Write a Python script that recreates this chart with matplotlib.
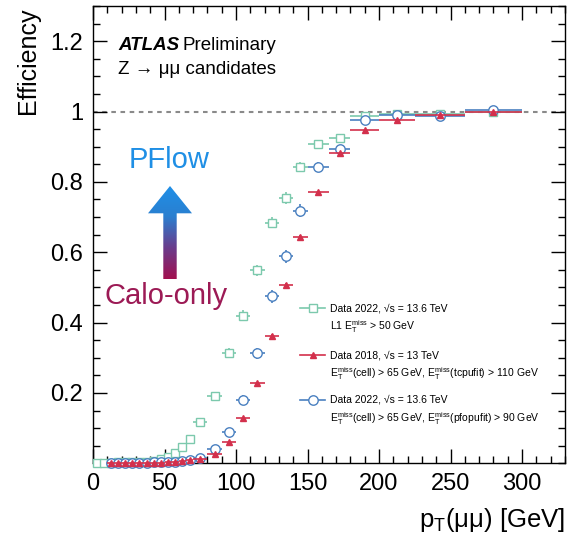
import numpy as np
import matplotlib
matplotlib.use("Agg")
import matplotlib.pyplot as plt
from matplotlib.patches import Polygon
from matplotlib.ticker import MultipleLocator, FixedLocator
from matplotlib.colors import LinearSegmentedColormap

plt.rcParams['font.family'] = ['Liberation Sans', 'DejaVu Sans']
plt.rcParams['mathtext.fontset'] = 'custom'
plt.rcParams['mathtext.rm'] = 'Liberation Sans'
plt.rcParams['mathtext.it'] = 'Liberation Sans:italic'
plt.rcParams['mathtext.bf'] = 'Liberation Sans:bold'

# ---------------- data ----------------
edges_l1 = [0, 5, 10, 15, 20, 25, 30, 35, 40, 45, 50, 55, 60, 65, 70,
            80, 90, 100, 110, 120, 130, 140, 150, 165, 180, 200, 225, 260, 300]
eff_l1 = [0.0, 0.0, 0.002, 0.003, 0.003, 0.004, 0.005, 0.005, 0.007, 0.011,
          0.018, 0.030, 0.047, 0.069, 0.117, 0.190, 0.313, 0.420, 0.549,
          0.684, 0.754, 0.842, 0.907, 0.926, 0.986, 0.992, 0.993, 1.0]
err_l1 = [0.002, 0.002, 0.002, 0.002, 0.002, 0.002, 0.002, 0.002, 0.003, 0.003,
          0.004, 0.005, 0.006, 0.008, 0.010, 0.012, 0.014, 0.015, 0.016,
          0.016, 0.016, 0.014, 0.010, 0.010, 0.006, 0.005, 0.005, 0.004]

edges_run2 = [10, 15, 20, 25, 30, 35, 40, 45, 50, 55, 60, 65, 70,
              80, 90, 100, 110, 120, 130, 140, 150, 165, 180, 200, 225, 260, 300]
eff_2018 = [0.0, 0.0, 0.0, 0.0, 0.001, 0.001, 0.002, 0.002, 0.003, 0.004,
            0.006, 0.008, 0.011, 0.027, 0.061, 0.128, 0.228, 0.363, 0.508,
            0.644, 0.772, 0.882, 0.947, 0.977, 0.991, 0.999]
err_2018 = [0.001, 0.001, 0.001, 0.001, 0.001, 0.001, 0.001, 0.001, 0.001, 0.001,
            0.001, 0.001, 0.002, 0.002, 0.003, 0.003, 0.004, 0.004, 0.004,
            0.004, 0.003, 0.003, 0.002, 0.002, 0.002, 0.001]
eff_pflow = [0.001, 0.001, 0.001, 0.001, 0.002, 0.002, 0.003, 0.003, 0.004, 0.005,
             0.007, 0.009, 0.016, 0.042, 0.090, 0.180, 0.313, 0.475, 0.588,
             0.718, 0.843, 0.893, 0.975, 0.991, 0.987, 1.003]
err_pflow = [0.002, 0.002, 0.002, 0.002, 0.002, 0.002, 0.002, 0.002, 0.003, 0.003,
             0.003, 0.004, 0.005, 0.008, 0.011, 0.014, 0.016, 0.018, 0.018,
             0.018, 0.014, 0.012, 0.008, 0.006, 0.006, 0.004]

x_ticks = [0, 50, 100, 150, 200, 250, 300]
y_ticks = [0.2, 0.4, 0.6, 0.8, 1.0, 1.2]
y_tick_labels = ["0.2", "0.4", "0.6", "0.8", "1", "1.2"]

labels_main = ["Data 2022, \u221As = 13.6 TeV",
               "Data 2018, \u221As = 13 TeV",
               "Data 2022, \u221As = 13.6 TeV"]
labels_sub = [r"L1 $\mathrm{E}_{\mathrm{T}}^{\mathrm{miss}}$ > 50 GeV",
              r"$\mathrm{E}_{\mathrm{T}}^{\mathrm{miss}}$(cell) > 65 GeV, $\mathrm{E}_{\mathrm{T}}^{\mathrm{miss}}$(tcpufit) > 110 GeV",
              r"$\mathrm{E}_{\mathrm{T}}^{\mathrm{miss}}$(cell) > 65 GeV, $\mathrm{E}_{\mathrm{T}}^{\mathrm{miss}}$(pfopufit) > 90 GeV"]

GREEN = "#7cc9ad"
RED = "#d3304c"
BLUE = "#4a80c0"

# ---------------- figure ----------------
fig = plt.figure(figsize=(5.69, 5.47), dpi=100)
ax = fig.add_axes([93/569, 1 - 463.3/547, 472/569, 457.3/547])


def draw(edges, eff, err, marker, color, ms, mfc, z):
    e = np.asarray(edges, dtype=float)
    c = 0.5 * (e[1:] + e[:-1])
    hw = 0.5 * (e[1:] - e[:-1])
    cont = ax.errorbar(c, eff, xerr=hw, yerr=err, fmt=marker, ms=ms, mfc=mfc,
                       mec=color, mew=1.0, color=color, elinewidth=1.2,
                       capsize=0, zorder=z)
    for art in cont.get_children():
        art.set_clip_on(False)


ax.axhline(1.0, color="#8a8a8a", ls=(0, (2.2, 2.2)), lw=1.5, zorder=1)
draw(edges_l1, eff_l1, err_l1, 's', GREEN, 6.3, 'white', 3)
draw(edges_run2, eff_pflow, err_pflow, 'o', BLUE, 6.8, 'white', 4)
draw(edges_run2, eff_2018, err_2018, '^', RED, 4.8, RED, 5)

# gradient arrow
cx = (170 - 93) / 472.0
tip_y = (463.3 - 186.0) / 457.3
base_y = (463.3 - 213.3) / 457.3
bot_y = (463.3 - 279.3) / 457.3
hhw = 22.0 / 472
shw = 6.7 / 472
verts = [(cx, tip_y), (cx + hhw, base_y), (cx + shw, base_y), (cx + shw, bot_y),
         (cx - shw, bot_y), (cx - shw, base_y), (cx - hhw, base_y)]
poly = Polygon(verts, closed=True, transform=ax.transAxes, facecolor='none',
               edgecolor='none')
ax.add_patch(poly)
cmap = LinearSegmentedColormap.from_list("calo_pflow", ["#a2104f", "#6a3c8c", "#2a7fd0", "#1f90e8"])
grad = np.linspace(0, 1, 256).reshape(-1, 1)
im = ax.imshow(grad, cmap=cmap, origin='lower', aspect='auto',
               extent=[cx - hhw, cx + hhw, bot_y, tip_y], transform=ax.transAxes,
               zorder=2)
im.set_clip_path(poly)

ax.text((166 - 93) / 472, (463.3 - 296) / 457.3, "Calo-only", color="#9c1a55",
        fontsize=21, ha='center', va='center', transform=ax.transAxes)
ax.text((169 - 93) / 472, (463.3 - 160) / 457.3, "PFlow", color="#1f8fe5",
        fontsize=21, ha='center', va='center', transform=ax.transAxes)

# ATLAS label
ax.text((118 - 93) / 472, (463.3 - 46) / 457.3, "ATLAS", fontsize=13.5,
        fontweight='bold', fontstyle='italic', ha='left', va='center',
        transform=ax.transAxes)
ax.text((183 - 93) / 472, (463.3 - 46) / 457.3, "Preliminary", fontsize=13.5,
        ha='left', va='center', transform=ax.transAxes)
ax.text((118 - 93) / 472, (463.3 - 70) / 457.3, "Z \u2192 \u03bc\u03bc candidates",
        fontsize=13.5, ha='left', va='center', transform=ax.transAxes)

# manual legend
leg_y = [308.3, 355.0, 400.0]
sub_y = [327.0, 374.0, 419.0]
styles = [('s', GREEN, 'white', 6.3), ('^', RED, RED, 4.8), ('o', BLUE, 'white', 6.8)]
x0, x1 = (300 - 93) / 472, (325 - 93) / 472
xt = (330 - 93) / 472
for ly, sy, (m, col, mf, ms), lm, ls in zip(leg_y, sub_y, styles, labels_main, labels_sub):
    yy = (463.3 - ly) / 457.3
    ax.plot([x0, x1], [yy, yy], color=col, lw=1.2, transform=ax.transAxes, zorder=6)
    ax.plot([(x0 + x1) / 2], [yy], marker=m, ms=ms, mfc=mf, mec=col, mew=1.0,
            color=col, transform=ax.transAxes, zorder=7)
    ax.text(xt, yy, lm, fontsize=7.5, ha='left', va='center', transform=ax.transAxes)
    ax.text(xt, (463.3 - sy) / 457.3, ls, fontsize=7.5, ha='left', va='center',
            transform=ax.transAxes)

ax.set_xlim(0, 330)
ax.set_ylim(0, 1.3)
ax.xaxis.set_major_locator(FixedLocator(x_ticks))
ax.xaxis.set_minor_locator(MultipleLocator(10))
ax.yaxis.set_major_locator(FixedLocator(y_ticks))
ax.set_yticklabels(y_tick_labels)
ax.yaxis.set_minor_locator(MultipleLocator(0.05))
ax.tick_params(which='both', direction='in', top=True, right=True, width=1.0,
               labelsize=17)
ax.tick_params(which='major', length=10, pad=7)
ax.tick_params(which='minor', length=5)
for sp in ax.spines.values():
    sp.set_linewidth(1.0)

fig.text(28 / 569, 1 - 8 / 547, "Efficiency", rotation=90, ha='center', va='top',
         fontsize=18)
fig.text(565 / 569, 1 - 520 / 547, "p$_{\\mathrm{T}}$(\u03bc\u03bc) [GeV]",
         ha='right', va='center', fontsize=18.5)

fig.savefig("out.png", dpi=100)
